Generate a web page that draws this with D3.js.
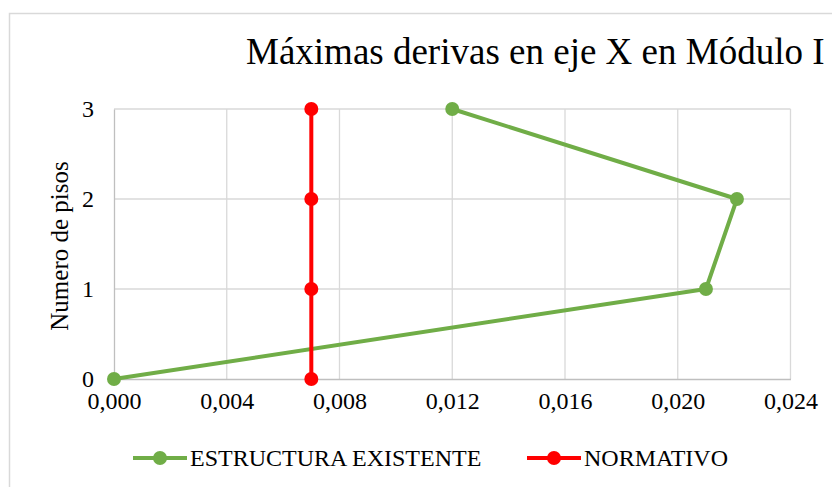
<!DOCTYPE html>
<html><head><meta charset="utf-8">
<script src="https://cdn.jsdelivr.net/npm/d3@7"></script>
<style>body{margin:0;background:#fff;}svg{display:block;font-family:"Liberation Serif","Times New Roman",serif;}</style>
</head><body>
<svg id="c" width="832" height="487"></svg>
<script>
const title = "Máximas derivas en eje X en Módulo I";
const yLabel = "Numero de pisos";
const floors = [0, 1, 2, 3];
const existente = [0.0, 0.0210, 0.0221, 0.0120];
const normativo = [0.007, 0.007, 0.007, 0.007];
const xTicks = [0, 0.004, 0.008, 0.012, 0.016, 0.020, 0.024];
const yTicks = [0, 1, 2, 3];
const seriesNames = ["ESTRUCTURA EXISTENTE", "NORMATIVO"];
const colors = ["#70AD47", "#FF0000"];

const svg = d3.select("#c");
svg.append("rect").attr("x", 9.5).attr("y", 13.5).attr("width", 900).attr("height", 600)
  .attr("fill", "#fff").attr("stroke", "#d9d9d9").attr("stroke-width", 1.5);

const x = d3.scaleLinear().domain([0, 0.024]).range([114, 790.5]);
const y = d3.scaleLinear().domain([0, 3]).range([379, 109]);

// grid
svg.append("g").selectAll("line.v").data(xTicks.slice(1)).join("line")
  .attr("x1", d => x(d)).attr("x2", d => x(d)).attr("y1", y(3)).attr("y2", y(0))
  .attr("stroke", "#d9d9d9").attr("stroke-width", 1.3);
svg.append("g").selectAll("line.h").data(yTicks.slice(1)).join("line")
  .attr("x1", x(0)).attr("x2", x(0.024)).attr("y1", d => y(d)).attr("y2", d => y(d))
  .attr("stroke", "#d9d9d9").attr("stroke-width", 1.3);

// axes
const xAxis = svg.append("g").attr("transform", `translate(0,${y(0)})`)
  .attr("font-size", 24).attr("font-family", "Liberation Serif")
  .call(d3.axisBottom(x).tickValues(xTicks).tickSize(0).tickPadding(13)
    .tickFormat(d => d3.format(".3f")(d).replace(".", ",")));
xAxis.attr("font-size", 24).attr("font-family", "Liberation Serif");
xAxis.select(".domain").attr("stroke", "#bfbfbf").attr("stroke-width", 1.3);
xAxis.selectAll("text").style("font-size", "24px").style("font-family", "Liberation Serif").attr("fill", "#000");

const yAxis = svg.append("g").attr("transform", `translate(${x(0)},0)`)
  .call(d3.axisLeft(y).tickValues(yTicks).tickSize(0).tickPadding(20).tickFormat(d3.format("d")));
yAxis.attr("font-size", 24).attr("font-family", "Liberation Serif");
yAxis.select(".domain").attr("stroke", "#bfbfbf").attr("stroke-width", 1.3);
yAxis.selectAll("text").style("font-size", "24px").style("font-family", "Liberation Serif").attr("fill", "#000");

// title
svg.append("text").attr("x", 246).attr("y", 64).style("font-size", "37px").attr("fill", "#000")
  .text(title);

// y label
svg.append("text").attr("transform", "translate(68,246) rotate(-90)").attr("text-anchor", "middle")
  .style("font-size", "25px").attr("fill", "#000").text(yLabel);

// lines
const line = d3.line().x(d => x(d[0])).y(d => y(d[1]));
const allSeries = [existente, normativo];
allSeries.forEach((s, i) => {
  const pts = s.map((v, j) => [v, floors[j]]);
  svg.append("path").datum(pts).attr("d", line).attr("fill", "none")
    .attr("stroke", colors[i]).attr("stroke-width", 4).attr("stroke-linejoin", "round");
  svg.append("g").selectAll("circle").data(pts).join("circle")
    .attr("cx", d => x(d[0])).attr("cy", d => y(d[1])).attr("r", 7).attr("fill", colors[i]);
});

// legend
const legendX = [133, 527];
seriesNames.forEach((n, i) => {
  const g = svg.append("g").attr("transform", `translate(${legendX[i]},458)`);
  g.append("line").attr("x1", 0).attr("x2", 54).attr("stroke", colors[i]).attr("stroke-width", 4);
  g.append("circle").attr("cx", 27).attr("r", 7).attr("fill", colors[i]);
  g.append("text").attr("x", 57).attr("y", 8).style("font-size", "24px").attr("fill", "#000").text(n);
});
</script>
</body></html>
